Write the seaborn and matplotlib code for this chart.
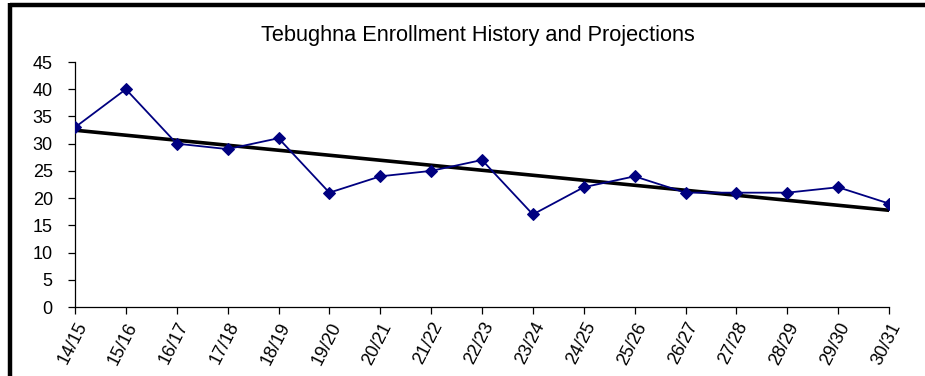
import matplotlib
matplotlib.use("Agg")
import matplotlib.pyplot as plt
from matplotlib.lines import Line2D
import numpy as np
import pandas as pd
import seaborn as sns

# School years shown on the category axis
years = ["14/15", "15/16", "16/17", "17/18", "18/19", "19/20", "20/21", "21/22",
         "22/23", "23/24", "24/25", "25/26", "26/27", "27/28", "28/29", "29/30", "30/31"]
# Enrollment counts per school year
enrollment = [33, 40, 30, 29, 31, 21, 24, 25, 27, 17, 22, 24, 21, 21, 21, 22, 19]
y_ticks = [0, 5, 10, 15, 20, 25, 30, 35, 40, 45]

sns.set_theme(style="white")
plt.rcParams["font.family"] = ["Liberation Sans", "DejaVu Sans"]

df = pd.DataFrame({"idx": np.arange(len(years)), "year": years, "enrollment": enrollment})

fig = plt.figure(figsize=(9.25, 3.76), dpi=100)
ax = fig.add_axes([75 / 925, 1 - 307 / 376, (889 - 75) / 925, (307 - 62) / 376])

# Linear trend line across the full range
sns.regplot(data=df, x="idx", y="enrollment", ax=ax, ci=None, scatter=False,
            truncate=True, line_kws=dict(color="black", lw=2.6, zorder=3))

# Enrollment series
sns.lineplot(data=df, x="idx", y="enrollment", ax=ax, color="#000080", lw=1.3,
             marker="D", markersize=6.5, markeredgecolor="#000080", zorder=4)

ax.set_xlim(0, len(years) - 1)
ax.set_ylim(0, 45)
ax.set_yticks(y_ticks)
ax.set_xticks(df["idx"])
ax.set_xticklabels(years, rotation=63, ha="right", va="top", rotation_mode="anchor")
ax.tick_params(axis="both", which="both", direction="out", length=5, width=0.9,
               color="black", labelsize=13, labelcolor="black")
ax.tick_params(axis="x", pad=4, bottom=True)
ax.tick_params(axis="y", pad=11, left=True)
ax.set_xlabel("")
ax.set_ylabel("")
for side in ["top", "right"]:
    ax.spines[side].set_visible(False)
for side in ["left", "bottom"]:
    ax.spines[side].set_color("black")
    ax.spines[side].set_linewidth(0.9)
ax.grid(False)
ax.patch.set_alpha(0)

fig.text(478 / 925, 1 - 41 / 376, "Tebughna Enrollment History and Projections",
         ha="center", va="baseline", fontsize=15.7, color="black")

# Outer frame: top and left edges
fig.add_artist(Line2D([10 / 925, 1.0], [1 - 4.5 / 376, 1 - 4.5 / 376],
                      transform=fig.transFigure, color="black", lw=3.2, solid_capstyle="butt"))
fig.add_artist(Line2D([10 / 925, 10 / 925], [0, 1 - 3 / 376],
                      transform=fig.transFigure, color="black", lw=3.2, solid_capstyle="butt"))

fig.savefig("out.png", dpi=100)
